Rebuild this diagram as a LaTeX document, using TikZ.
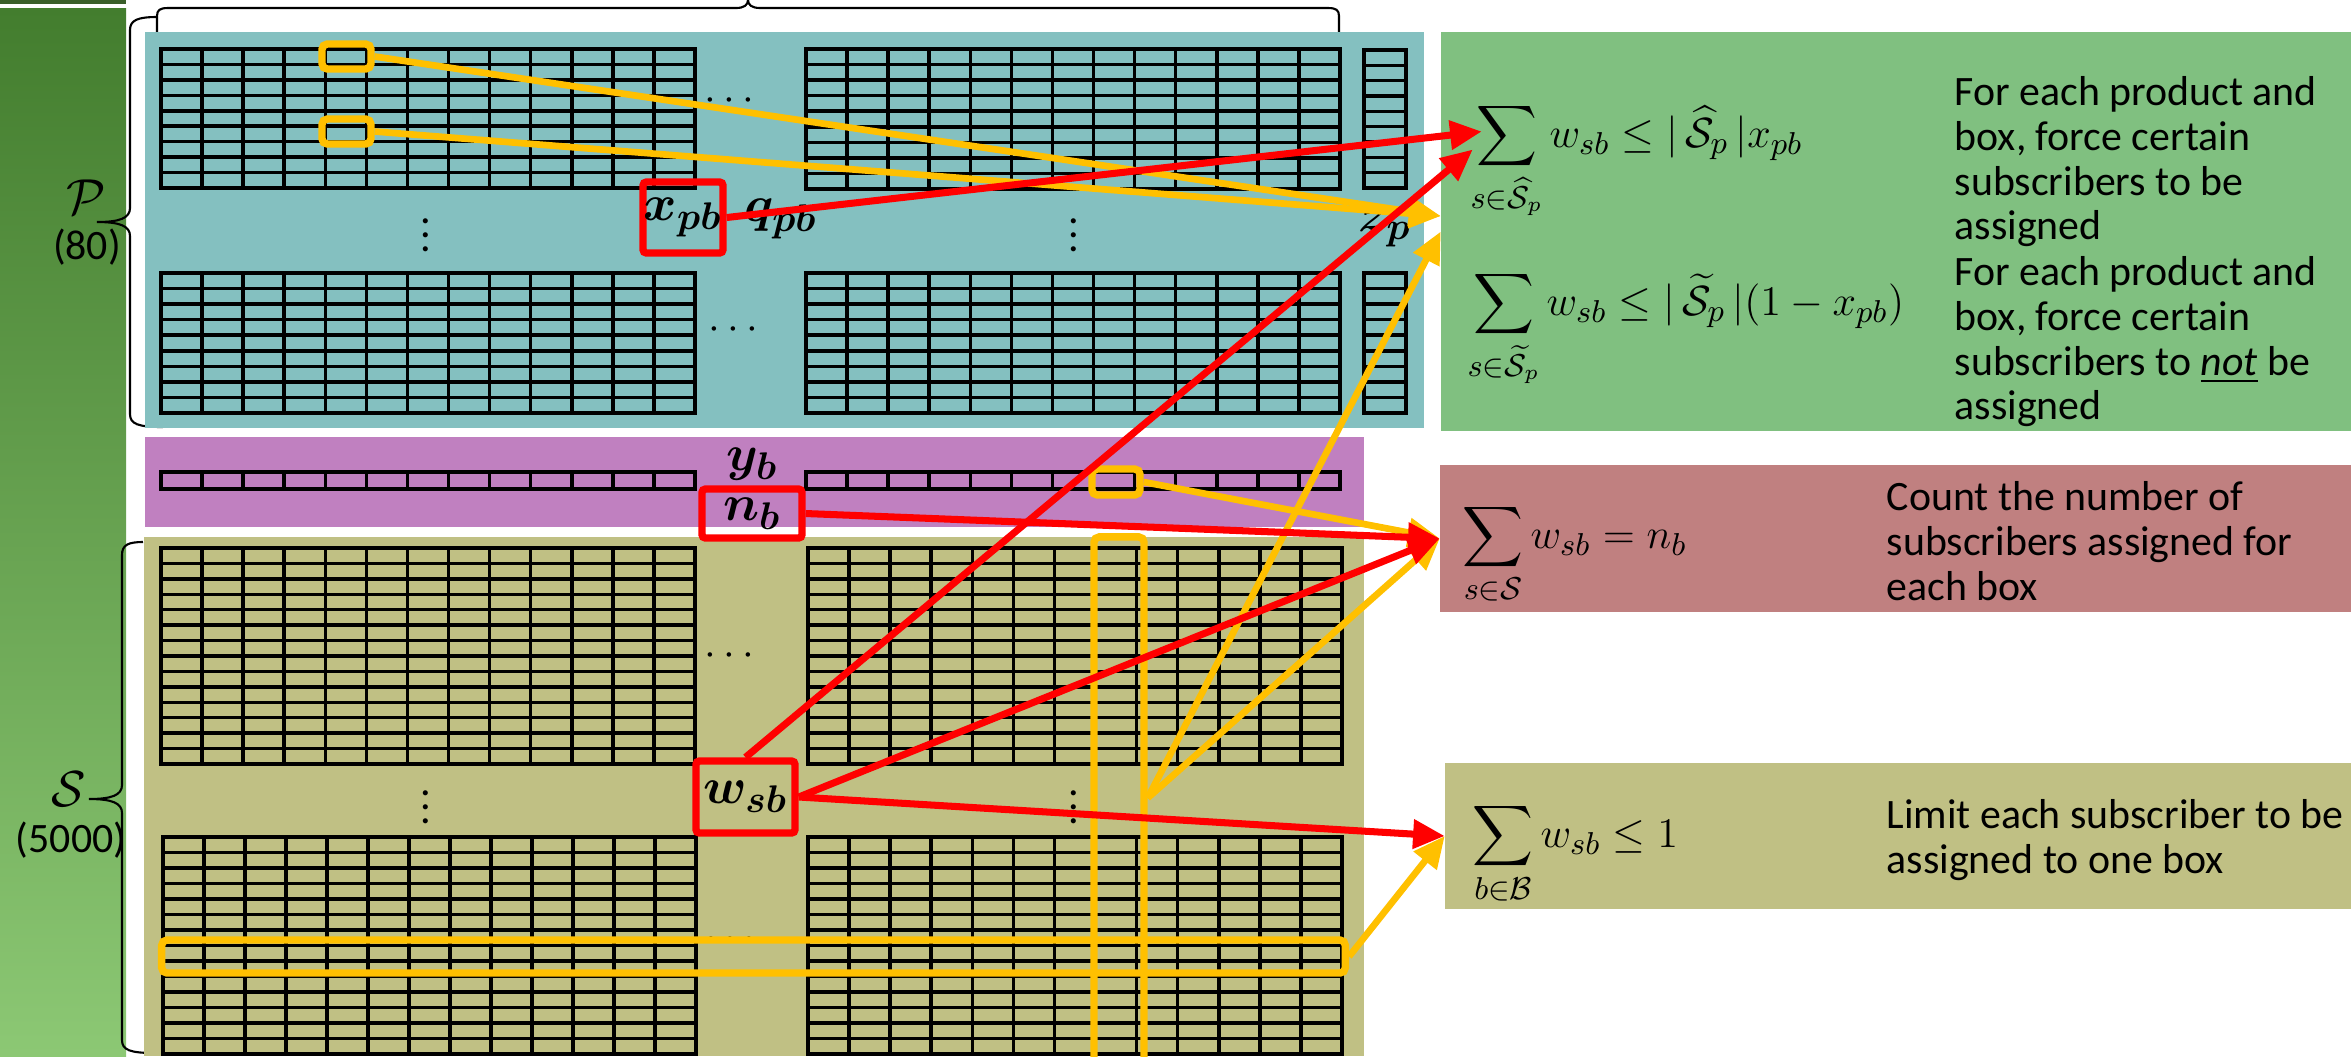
\documentclass[tikz,border=0pt]{standalone}
\usepackage{amsmath}
\usepackage{bm}
\usepackage{fontspec}
\setmainfont{Carlito}
\usepackage{tikz}
\usetikzlibrary{arrows.meta,calc}
\definecolor{PanelTeal}{HTML}{84C0C0}
\definecolor{PanelPurple}{HTML}{C080C0}
\definecolor{PanelOlive}{HTML}{C0C084}
\definecolor{PanelGreen}{HTML}{80C080}
\definecolor{PanelRose}{HTML}{C08080}
\definecolor{HiRed}{HTML}{FF0000}
\definecolor{HiGold}{HTML}{FFC000}
\definecolor{BarDark}{HTML}{3A5F2A}
\definecolor{BarTop}{HTML}{437D2E}
\definecolor{BarBottom}{HTML}{8CC874}
\newcommand{\notefont}{\fontsize{11.9}{12.7}\selectfont}
\newcommand{\mathsize}{\fontsize{13}{15}\selectfont}
\newcommand{\varsize}{\fontsize{15}{17}\selectfont}
% left, top, right, bottom, columns, rows (pixel units)
\newcommand{\cellgrid}[6]{%
  \draw[gridline] (#1,#2) rectangle (#3,#4);
  \foreach \gc in {1,...,#5}
    \draw[gridline] ({#1+(#3-#1)*\gc/#5},#2) -- ({#1+(#3-#1)*\gc/#5},#4);
  \foreach \gr in {1,...,#6}
    \draw[gridline] (#1,{#2+(#4-#2)*\gr/#6}) -- (#3,{#2+(#4-#2)*\gr/#6});
}

\begin{document}
\begin{tikzpicture}[
    x=0.01cm, y=-0.01cm,
    panel/.style={inner sep=0, outer sep=0, draw=none},
    gridline/.style={draw=black, line width=1pt},
    braceline/.style={draw=black, line width=0.6pt},
    redbox/.style={
      draw=HiRed,
      line width=2.1pt,
      rounded corners=1pt,
      inner sep=0,
      font=\varsize
    },
    goldbox/.style={
      draw=HiGold,
      line width=2.1pt,
      rounded corners=1.5pt,
      inner sep=0
    },
    redlink/.style={
      -{Triangle[length=9pt,width=8pt]},
      draw=HiRed,
      line width=2pt
    },
    goldlink/.style={
      -{Triangle[length=9pt,width=8pt]},
      draw=HiGold,
      line width=1.9pt
    },
    varlabel/.style={font=\varsize, inner sep=0},
    dots/.style={font=\fontsize{12}{12}\selectfont, inner sep=0},
    note/.style={font=\notefont, align=left, inner sep=0, anchor=north west},
    formula/.style={font=\mathsize, inner sep=0, anchor=base west}
  ]
    \useasboundingbox (0,0) rectangle (2351,1056);
    \fill[white] (0,0) rectangle (2351,1056);

    % side bar
    \fill[BarDark] (0,0) rectangle (126,4);
    \shade[top color=BarTop, bottom color=BarBottom] (0,8) rectangle (126,1056);

    % braces
    \draw[braceline] (157,32) -- (157,16) .. controls (157,10) and (160,8) .. (168,8) -- (736,8)
      .. controls (744,8) and (748,5) .. (748,0) .. controls (748,5) and (752,8) .. (760,8)
      -- (1328,8) .. controls (1336,8) and (1339,10) .. (1339,16) -- (1339,32);
    \draw[braceline] (157,17) .. controls (138,17) and (130,20) .. (130,30) -- (130,208)
      .. controls (130,218) and (120,222) .. (97,222) .. controls (120,222) and (130,226) .. (130,236)
      -- (130,414) .. controls (130,424) and (138,427) .. (163,427);
    \draw[braceline] (143,542) .. controls (128,542) and (122,545) .. (122,555) -- (122,785)
      .. controls (122,795) and (112,799) .. (89,799) .. controls (112,799) and (122,803) .. (122,813)
      -- (122,1040) .. controls (122,1050) and (130,1053) .. (155,1053);

    \node[font=\fontsize{14}{14}\selectfont, inner sep=0] (setP) at (86,197) {$\mathcal{P}$};
    \node[font=\notefont, inner sep=0] (cardP) at (87,247) {(80)};
    \node[font=\fontsize{14}{14}\selectfont, inner sep=0] (setS) at (69,789) {$\mathcal{S}$};
    \node[font=\notefont, inner sep=0] (cardS) at (71,840) {(5000)};

    % variable panels
    \node[panel, fill=PanelTeal, minimum width=12.79cm, minimum height=3.96cm] (prodPanel) at (784.5,230) {};
    \node[panel, fill=PanelPurple, minimum width=12.19cm, minimum height=0.90cm] (boxPanel) at (754.5,482) {};
    \node[panel, fill=PanelOlive, minimum width=12.20cm, minimum height=5.19cm] (subPanel) at (754,796.5) {};

    % constraint panels
    \node[panel, fill=PanelGreen, minimum width=9.10cm, minimum height=3.99cm] (forcePanel) at (1896,231.5) {};
    \node[panel, fill=PanelRose, minimum width=9.11cm, minimum height=1.47cm] (countPanel) at (1895.5,538.5) {};
    \node[panel, fill=PanelOlive, minimum width=9.06cm, minimum height=1.46cm] (limitPanel) at (1898,836) {};

    % cell grids
    \cellgrid{161}{49}{695}{188}{13}{9}
    \cellgrid{806}{49}{1340}{189}{13}{9}
    \cellgrid{1364}{50}{1406}{188}{1}{9}
    \cellgrid{161}{273}{695}{413}{13}{9}
    \cellgrid{806}{273}{1340}{413}{13}{9}
    \cellgrid{1364}{273}{1406}{413}{1}{9}
    \cellgrid{161}{472}{695}{489}{13}{1}
    \cellgrid{806}{472}{1340}{489}{13}{1}
    \cellgrid{161}{548}{695}{764}{13}{14}
    \cellgrid{808}{548}{1342}{764}{13}{14}
    \cellgrid{163}{837}{696}{1054}{13}{14}
    \cellgrid{808}{837}{1342}{1054}{13}{14}

    \node[dots] (prodDotsA) at (733,101) {$\cdots$};
    \node[dots] (prodDotsB) at (737,330) {$\cdots$};
    \node[dots] (prodVdotsA) at (426,225) {$\vdots$};
    \node[dots] (prodVdotsB) at (1074,225) {$\vdots$};
    \node[dots] (subDotsA) at (733,656) {$\cdots$};
    \node[dots] (subDotsB) at (734,940) {$\cdots$};
    \node[dots] (subVdotsA) at (426,797) {$\vdots$};
    \node[dots] (subVdotsB) at (1074,797) {$\vdots$};

    \node[varlabel] (qpb) at (781,219) {$\bm{q_{pb}}$};
    \node[varlabel] (zp) at (1385,228) {$\bm{z_p}$};
    \node[varlabel] (yb) at (752,464) {$\bm{y_b}$};

    % constraints
    \node[formula] (forceIn) at (1470,147) {$\displaystyle\sum_{s\in\widehat{\mathcal{S}}_p} w_{sb} \le |\,\widehat{\mathcal{S}}_p\,|x_{pb}$};
    \node[formula] (forceOut) at (1467,315) {$\displaystyle\sum_{s\in\widetilde{\mathcal{S}}_p} w_{sb} \le |\,\widetilde{\mathcal{S}}_p\,|(1-x_{pb})$};
    \node[formula] (countEq) at (1462,548) {$\displaystyle\sum_{s\in\mathcal{S}} w_{sb} = n_b$};
    \node[formula] (limitEq) at (1472,847) {$\displaystyle\sum_{b\in\mathcal{B}} w_{sb} \le 1$};

    \node[note] (forceInTxt) at (1954,76) {For each product and\\box, force certain\\subscribers to be\\assigned};
    \node[note] (forceOutTxt) at (1954,256) {For each product and\\box, force certain\\subscribers to \underline{\textit{not}} be\\assigned};
    \node[note] (countTxt) at (1886,481) {Count the number of\\subscribers assigned for\\each box};
    \node[note] (limitTxt) at (1886,799) {Limit each subscriber to be\\assigned to one box};

    % highlighted entries
    \node[goldbox, minimum width=0.49cm, minimum height=0.25cm] (cellA) at (346.5,56.5) {};
    \node[goldbox, minimum width=0.49cm, minimum height=0.25cm] (cellB) at (346.5,131.5) {};
    \node[goldbox, minimum width=0.48cm, minimum height=0.26cm] (cellC) at (1116,482) {};
    \node[goldbox, minimum width=11.83cm, minimum height=0.33cm] (rowS) at (753.5,956.5) {};
    \node[goldbox, minimum width=0.50cm, minimum height=5.43cm] (colS) at (1119,808.5) {};

    \draw[goldlink] (cellA.east) -- ([yshift=4.4pt]forcePanel.west);
    \draw[goldlink] (cellB.east) -- ([yshift=4.4pt]forcePanel.west);
    \draw[goldlink] ([yshift=3pt]colS.east) -- (forcePanel.west);
    \draw[goldlink] ([yshift=3pt]colS.east) -- (countPanel.west);
    \draw[goldlink] (cellC.east) -- (countPanel.west);
    \draw[goldlink] (rowS.east) -- (limitPanel.west);

    \node[redbox, minimum width=0.80cm, minimum height=0.71cm] (xpb) at (683,217.5) {$\bm{x_{pb}}$};
    \node[redbox, minimum width=1.00cm, minimum height=0.49cm] (nb) at (752,513.5) {$\bm{n_b}$};
    \node[redbox, minimum width=0.99cm, minimum height=0.72cm] (wsb) at (745.5,797) {$\bm{w_{sb}}$};

    \draw[redlink] (xpb.east) -- ($(forcePanel.west)+(41,-100)$);
    \draw[redlink] (wsb.north) -- ($(forcePanel.west)+(32,-82)$);
    \draw[redlink] (nb.east) -- (countPanel.west);
    \draw[redlink] (wsb.east) -- (countPanel.west);
    \draw[redlink] (wsb.east) -- (limitPanel.west);
  \end{tikzpicture}
\end{document}
